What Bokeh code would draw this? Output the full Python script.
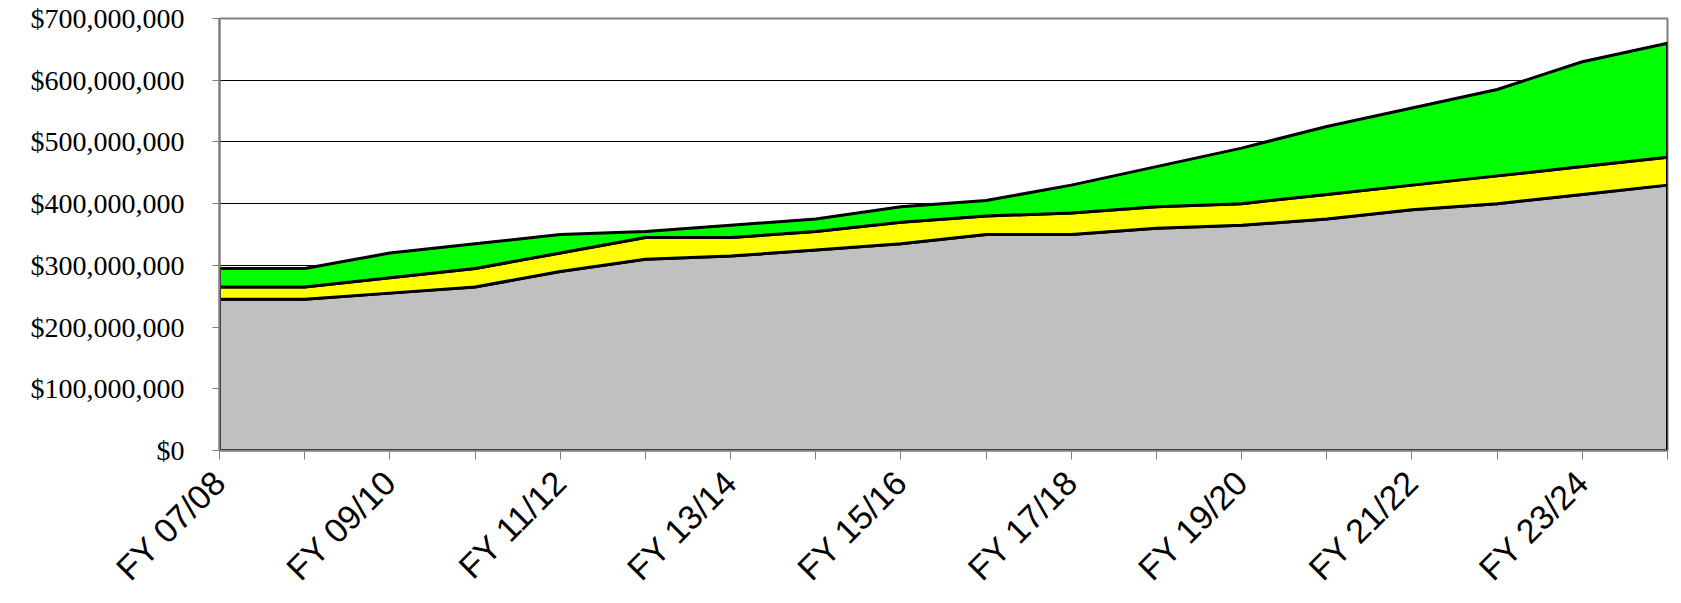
import math

from bokeh.embed import file_html
from bokeh.models import FixedTicker, NumeralTickFormatter, Range1d
from bokeh.plotting import figure
from bokeh.resources import INLINE

# Fiscal years (one point per year)
years = [
    "FY 07/08", "FY 08/09", "FY 09/10", "FY 10/11", "FY 11/12", "FY 12/13",
    "FY 13/14", "FY 14/15", "FY 15/16", "FY 16/17", "FY 17/18", "FY 18/19",
    "FY 19/20", "FY 20/21", "FY 21/22", "FY 22/23", "FY 23/24", "FY 24/25",
]

# Stacked components, in millions of dollars (bottom to top)
gray_band = [245, 245, 255, 265, 290, 310, 315, 325, 335, 350, 350, 360, 365, 375, 390, 400, 415, 430]
yellow_band = [20, 20, 25, 30, 30, 35, 30, 30, 35, 30, 35, 35, 35, 40, 40, 45, 45, 45]
green_band = [30, 30, 40, 40, 30, 10, 20, 20, 25, 25, 45, 65, 90, 110, 125, 140, 170, 185]

# Every other year is labelled on the axis
label_step = 2

MILLION = 1_000_000
x = list(range(len(years)))

p = figure(
    width=1681,
    height=603,
    output_backend="svg",
    toolbar_location=None,
    x_range=Range1d(0, len(years) - 1),
    y_range=Range1d(0, 700 * MILLION),
    min_border_left=219,
    min_border_right=14,
    min_border_top=18,
    min_border_bottom=153,
    background_fill_color="white",
    border_fill_color="white",
)
p.outline_line_color = "#808080"
p.outline_line_width = 2

# Draw the stacked areas as closed polygons with black outlines
bands = [(gray_band, "#C0C0C0"), (yellow_band, "#FFFF00"), (green_band, "#00FF00")]
lower = [0.0] * len(x)
for band, colour in bands:
    upper = [lo + v * MILLION for lo, v in zip(lower, band)]
    p.patch(
        x + x[::-1],
        upper + lower[::-1],
        fill_color=colour,
        line_color="black",
        line_width=3,
        line_join="round",
    )
    lower = upper

# Horizontal gridlines
p.xgrid.visible = False
p.ygrid.grid_line_color = "black"
p.ygrid.grid_line_width = 1
p.ygrid.level = "underlay"

# Y axis: dollar amounts in a serif face
p.yaxis.ticker = FixedTicker(ticks=[i * 100 * MILLION for i in range(8)])
p.yaxis.formatter = NumeralTickFormatter(format="$0,0")
p.yaxis.major_label_text_font = "Liberation Serif"
p.yaxis.major_label_text_font_size = "28px"
p.yaxis.major_label_text_color = "black"
p.yaxis.axis_line_color = "#808080"
p.yaxis.axis_line_width = 2
p.yaxis.major_tick_line_color = "#808080"
p.yaxis.major_tick_out = 7
p.yaxis.major_tick_in = 0
p.yaxis.minor_tick_line_color = None
p.yaxis.major_label_standoff = 28

# X axis: a tick for every year, a rotated label for every other year
p.xaxis.ticker = FixedTicker(ticks=x)
p.xaxis.major_label_overrides = {
    i: (years[i] if i % label_step == 0 else "") for i in x
}
p.xaxis.major_label_orientation = math.pi / 4
p.xaxis.major_label_text_font = "Liberation Sans"
p.xaxis.major_label_text_font_size = "34px"
p.xaxis.major_label_text_color = "black"
p.xaxis.axis_line_color = "#808080"
p.xaxis.axis_line_width = 2
p.xaxis.major_tick_line_color = "#808080"
p.xaxis.major_tick_out = 9
p.xaxis.major_tick_in = 0
p.xaxis.minor_tick_line_color = None
p.xaxis.major_label_standoff = 17

open("out.html", "w").write(file_html(p, INLINE))
